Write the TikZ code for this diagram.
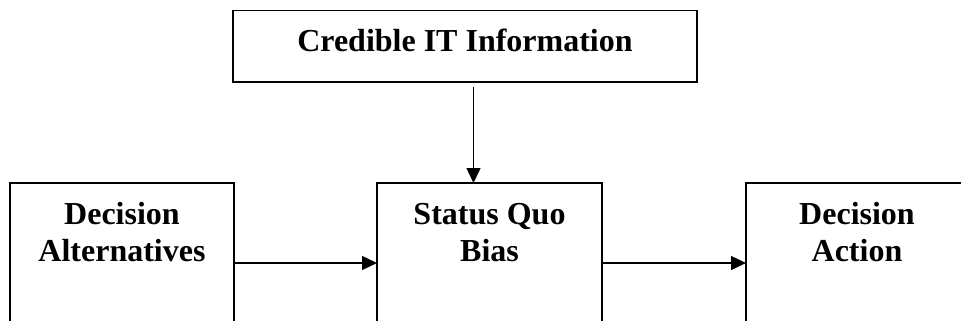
\documentclass[tikz,border=0pt]{standalone}
\usepackage{fontspec}
\setmainfont{Liberation Serif}
\usetikzlibrary{arrows.meta,calc}
\begin{document}
\begin{tikzpicture}[x=1pt,y=-1pt,
  box/.style={draw,line width=1.6pt,rectangle,inner sep=0pt,outer sep=0pt},
  lbl/.style={font=\fontsize{32}{37}\selectfont\bfseries,align=center,anchor=base,inner sep=0pt},
  flow/.style={line width=1.4pt,-{Triangle[length=15pt,width=14pt]}}]
\useasboundingbox (0,0) rectangle (961,321);
\clip (0,0) rectangle (961,321);
% boxes (the lower three run past the bottom edge)
\node[box,minimum width=464pt,minimum height=71.3pt] (info) at (465,46.35) {};
\node[box,minimum width=224pt,minimum height=160pt] (alt) at (122,263) {};
\node[box,minimum width=225pt,minimum height=160pt] (sqb) at (489.5,263) {};
\node[box,minimum width=222pt,minimum height=160pt] (act) at (857,263) {};
% labels (anchored on the baseline of the last line)
\node[lbl] (infot) at (465,52) {Credible IT Information};
\node[lbl] (altt) at (122,261) {Decision\\Alternatives};
\node[lbl] (sqbt) at (489.5,261) {Status Quo\\Bias};
\node[lbl] (actt) at (857,261) {Decision\\Action};
% connectors
\draw[flow] ($(info.south)+(8.5,5)$) -- ($(sqb.north)+(-16,0)$);
\draw[flow] (alt.east) -- (sqb.west);
\draw[flow] (sqb.east) -- (act.west);
\end{tikzpicture}
\end{document}
